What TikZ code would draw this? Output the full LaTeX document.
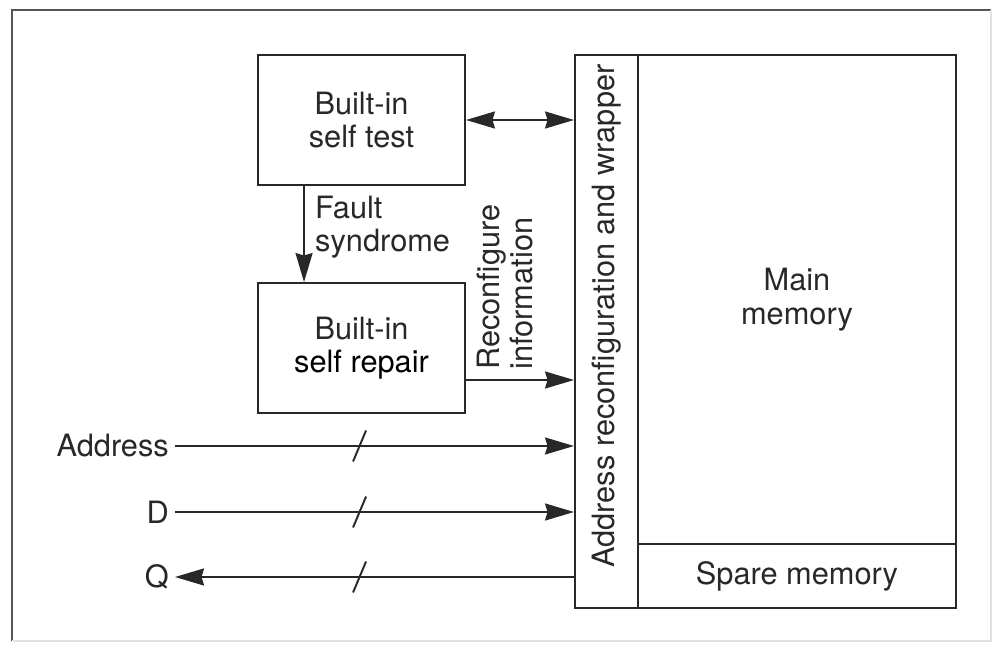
\documentclass[tikz,border=0pt]{standalone}
\usepackage{fontspec}
\setmainfont{TeX Gyre Heros}
\usepackage{tikz}
\usetikzlibrary{arrows.meta,positioning}

\begin{document}
\begin{tikzpicture}

		\definecolor{inkgray}{RGB}{40,40,40}
		\definecolor{framegray}{RGB}{85,85,85}
		\definecolor{paler}{RGB}{225,225,225}

		\useasboundingbox (0,0) rectangle (19.88,-13.02);

		% outer frame
		\draw[framegray, line width=1.2pt] (0.24,-12.82) -- (0.24,-0.2) -- (19.82,-0.2);
		\draw[paler, line width=1pt] (19.82,-0.2) -- (19.82,-12.82) -- (0.24,-12.82);

		\tikzstyle{edge} = [draw=inkgray,line width=1.1pt,-{Stealth[length=0.58cm,width=0.34cm,inset=0.05cm]}]
		\tikzstyle{edge2} = [draw=inkgray,line width=1.1pt,{Stealth[length=0.58cm,width=0.34cm,inset=0.05cm]}-{Stealth[length=0.58cm,width=0.34cm,inset=0.05cm]}]
		\tikzstyle{busmark} = [draw=inkgray,line width=1.1pt]

		\tikzset{block/.style = {shape=rectangle,draw=inkgray,line width=1.1pt,inner sep=0pt,
			text=inkgray,align=center,font=\fontsize{17.5}{19}\selectfont}}
		\tikzset{label/.style = {text=inkgray,font=\fontsize{17.5}{19}\selectfont}}

		\node[block,minimum width=4.14cm,minimum height=2.6cm] (bist) at (7.23,-2.40) {Built-in\\self test};
		\node[block,minimum width=4.14cm,minimum height=2.6cm] (bisr) at (7.23,-6.96) {Built-in\\\textcolor{black}{self repair}};
		\node[block,minimum width=1.26cm,minimum height=11.06cm] (wrap) at (12.13,-6.63) {};
		\node[block,minimum width=6.36cm,minimum height=9.78cm] (main) at (15.94,-5.99) {Main\\memory};
		\node[block,minimum width=6.36cm,minimum height=1.28cm] (spare) at (15.94,-11.52) {Spare memory};
		\node[label,rotate=90] (wraptext) at (12.13,-6.32) {Address reconfiguration and wrapper};

		\node[label,anchor=west,align=left] (fault) at (6.18,-4.54) {Fault\\syndrome};
		\node[label,rotate=90,align=left] (reconf) at (10.10,-5.74) {Reconfigure\\information};

		\node[label,anchor=east] (addr) at (3.5,-8.92) {Address};
		\node[label,anchor=east] (din) at (3.5,-10.24) {D};
		\node[label,anchor=east] (qout) at (3.5,-11.54) {Q};

		\draw[edge2] (bist.east) to (bist.east -| wrap.west);
		\draw[edge] ([xshift=0.94cm]bist.south west) to ([xshift=0.94cm]bisr.north west);
		\draw[edge] ([yshift=-0.64cm]bisr.east) to ([yshift=-0.64cm]bisr.east -| wrap.west);
		\draw[edge] (addr.east) to coordinate[pos=0.4625] (abus) (addr.east -| wrap.west);
		\draw[edge] (din.east) to coordinate[pos=0.4625] (dbus) (din.east -| wrap.west);
		\draw[edge] (qout.east -| wrap.west) to coordinate[pos=0.5375] (qbus) (qout.east);

		\foreach \s in {abus,dbus,qbus}
			\draw[busmark] ([shift={(-0.13,-0.31)}]\s) -- ([shift={(0.13,0.31)}]\s);
		\end{tikzpicture}
\end{document}
